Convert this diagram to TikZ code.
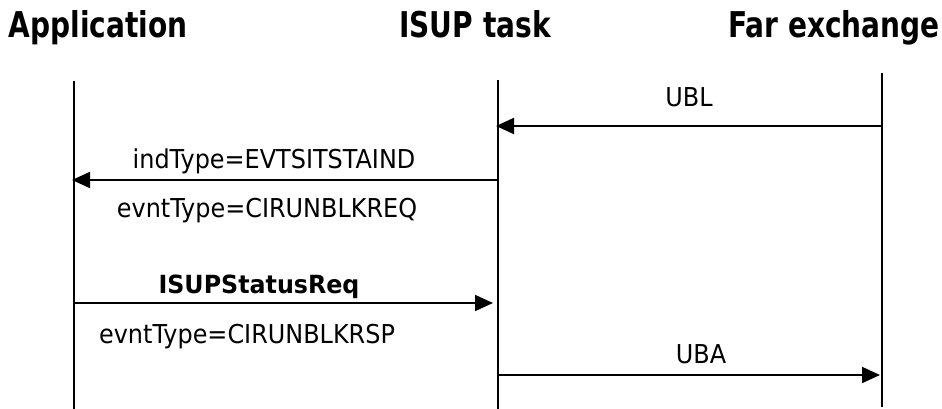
\documentclass[tikz,border=0pt]{standalone}
\usepackage{fontspec}
\setmainfont{DejaVu Sans}[FakeStretch=0.92]
\newfontfamily\headfont{DejaVu Sans}[FakeStretch=0.79]
\newfontfamily\msgboldfont{DejaVu Sans}[FakeStretch=0.95]
\usetikzlibrary{arrows.meta}
\tikzset{
  x=1pt, y=-1pt,
  lifeline/.style={line width=1.9pt},
  msg/.style={line width=1.9pt, -{Triangle[length=18pt,width=16pt]}},
  head/.style={anchor=base, inner sep=0pt, font=\headfont\bfseries\fontsize{35.5}{40}\selectfont},
  lbl/.style={anchor=base, inner sep=0pt, font=\fontsize{26}{30}\selectfont},
  lblbold/.style={anchor=base, inner sep=0pt, font=\msgboldfont\bfseries\fontsize{25}{30}\selectfont},
}
\begin{document}
\begin{tikzpicture}
\useasboundingbox (0,0) rectangle (942,409);

% participants
\node[head] (hApp) at (98,38) {Application};
\node[head] (hIsup) at (475,38) {ISUP task};
\node[head] (hFar) at (834,38) {Far exchange};

% lifelines
\coordinate (appTop) at (74,81);   \coordinate (appBot) at (74,409);
\coordinate (isupTop) at (498,80); \coordinate (isupBot) at (498,409);
\coordinate (farTop) at (882,73);  \coordinate (farBot) at (882,407);
\draw[lifeline] (appTop) -- (appBot);
\draw[lifeline] (isupTop) -- (isupBot);
\draw[lifeline] (farTop) -- (farBot);

% message end points
\coordinate (ublFar) at (882,126);  \coordinate (ublIsup) at (498,126);
\coordinate (indIsup) at (498,180); \coordinate (indApp) at (74,180);
\coordinate (reqApp) at (74,303);   \coordinate (reqIsup) at (498,303);
\coordinate (ubaIsup) at (498,375); \coordinate (ubaFar) at (882,375);

% messages
\draw[msg, shorten >=-2pt] (ublFar) -- (ublIsup);
\node[lbl] (tUbl) at (689,107) {UBL};

\draw[msg, shorten >=-2pt] (indIsup) -- (indApp);
\node[lbl] (tInd) at (274,168) {indType=EVTSITSTAIND};
\node[lbl] (tEvReq) at (267,217) {evntType=CIRUNBLKREQ};

\draw[msg, shorten >=5pt] (reqApp) -- (reqIsup);
\node[lblbold] (tReq) at (259,293) {ISUPStatusReq};
\node[lbl] (tEvRsp) at (247,343) {evntType=CIRUNBLKRSP};

\draw[msg, shorten >=2pt] (ubaIsup) -- (ubaFar);
\node[lbl] (tUba) at (701,363) {UBA};
\end{tikzpicture}
\end{document}
